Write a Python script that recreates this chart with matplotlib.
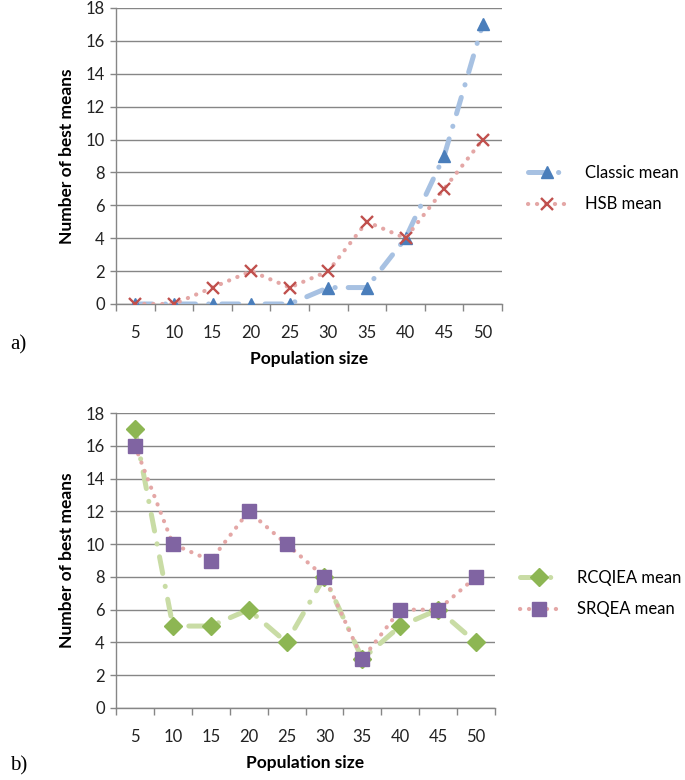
import matplotlib
matplotlib.use("Agg")
import matplotlib.pyplot as plt

pop_sizes = ["5", "10", "15", "20", "25", "30", "35", "40", "45", "50"]
classic_mean = [0, 0, 0, 0, 0, 1, 1, 4, 9, 17]
hsb_mean = [0, 0, 1, 2, 1, 2, 5, 4, 7, 10]
rcqiea_mean = [17, 5, 5, 6, 4, 8, 3, 5, 6, 4]
srqea_mean = [16, 10, 9, 12, 10, 8, 3, 6, 6, 8]
y_ticks = [0, 2, 4, 6, 8, 10, 12, 14, 16, 18]

plt.rcParams['font.family'] = ['Lato', 'DejaVu Sans']

W, H = 685, 780
fig = plt.figure(figsize=(W / 100, H / 100), dpi=100)

def frac(l, t, r, b):
    return [l / W, 1 - b / H, (r - l) / W, (b - t) / H]

ax1 = fig.add_axes(frac(116, 8, 502, 304))
ax2 = fig.add_axes(frac(116, 413, 495, 708))

dashdot = (0, (3.4, 2.6, 0.05, 2.6))
dotted = (0, (0.05, 2.1))

def style_axes(ax):
    x = list(range(len(pop_sizes)))
    ax.set_xlim(-0.5, len(pop_sizes) - 0.5)
    ax.set_ylim(0, 18)
    ax.set_yticks(y_ticks)
    ax.set_xticks(x)
    ax.set_xticklabels(pop_sizes)
    ax.set_xticks([i - 0.5 for i in range(len(pop_sizes) + 1)], minor=True)
    ax.tick_params(axis='x', which='major', length=0, pad=15, labelsize=12, labelcolor='#222222')
    ax.tick_params(axis='x', which='minor', length=5, width=1, color='#868686')
    ax.tick_params(axis='y', which='major', length=4, width=1, color='#868686', labelsize=12, pad=4, labelcolor='#222222')
    ax.grid(axis='y', color='#868686', linewidth=1)
    ax.set_axisbelow(True)
    for s in ['top', 'right']:
        ax.spines[s].set_visible(False)
    for s in ['left', 'bottom']:
        ax.spines[s].set_color('#868686')
        ax.spines[s].set_linewidth(1)
    ax.set_xlabel("Population size", fontsize=12.5, fontweight='bold', labelpad=7)
    ax.set_ylabel("Number of best means", fontsize=12.5, fontweight='bold', labelpad=8)
    return x

leg_kw = dict(loc='center left', frameon=False, fontsize=12, handlelength=2.3,
              labelspacing=0.95, handletextpad=1.1, borderpad=0, borderaxespad=0)

x = style_axes(ax1)
ax1.plot(x, classic_mean, color='#A7C1E2', lw=3.6, linestyle=dashdot,
         dash_capstyle='round', marker='^', markersize=9,
         markerfacecolor='#4A7EBB', markeredgecolor='#4A7EBB', label='Classic mean', zorder=3)
ax1.plot(x, hsb_mean, color='#E4A7A6', lw=3.0, linestyle=dotted,
         dash_capstyle='round', marker='x', markersize=8.5, markeredgewidth=1.7,
         markeredgecolor='#C0504D', label='HSB mean', zorder=4)
fig.legend(*ax1.get_legend_handles_labels(), bbox_to_anchor=(528 / W, 1 - 188.5 / H), **leg_kw)

x = style_axes(ax2)
ax2.plot(x, rcqiea_mean, color='#C9DCA5', lw=3.6, linestyle=dashdot,
         dash_capstyle='round', marker='D', markersize=9,
         markerfacecolor='#8DB653', markeredgecolor='#8DB653', label='RCQIEA mean', zorder=3)
ax2.plot(x, srqea_mean, color='#E4A7A6', lw=3.0, linestyle=dotted,
         dash_capstyle='round', marker='s', markersize=9.5,
         markerfacecolor='#8064A2', markeredgecolor='#8064A2', label='SRQEA mean', zorder=4)
fig.legend(*ax2.get_legend_handles_labels(), bbox_to_anchor=(520 / W, 1 - 593.5 / H), **leg_kw)

fig.text(10 / W, 1 - 345 / H, "a)", family='Liberation Serif', fontsize=15, va='center')
fig.text(10 / W, 1 - 766 / H, "b)", family='Liberation Serif', fontsize=15, va='center')

fig.savefig("out.png", dpi=100)
